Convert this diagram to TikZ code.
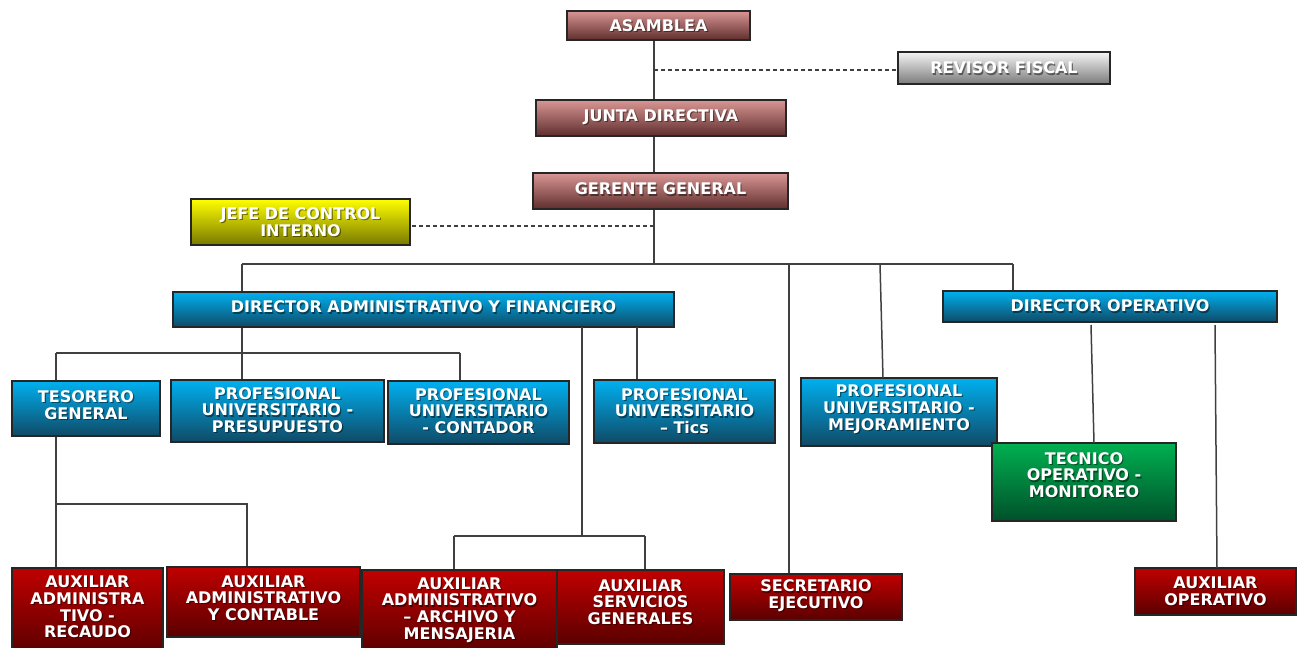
\documentclass[tikz,border=0pt]{standalone}
\usepackage{fontspec}
\setmainfont{DejaVu Sans}
\usetikzlibrary{fit}
\definecolor{pinkT}{HTML}{D99694}
\definecolor{pinkB}{HTML}{5E2E2D}
\definecolor{blueT}{HTML}{00B0F0}
\definecolor{blueB}{HTML}{0F4A66}
\definecolor{redT}{HTML}{C00000}
\definecolor{redB}{HTML}{5A0000}
\definecolor{greenT}{HTML}{00B050}
\definecolor{greenB}{HTML}{00502A}
\definecolor{yelT}{HTML}{FFFF00}
\definecolor{yelB}{HTML}{787800}
\definecolor{grayT}{HTML}{F5F5F5}
\definecolor{grayB}{HTML}{7A7A7A}
\tikzset{
  box/.style={draw=black!85, line width=1.2pt, inner sep=0pt},
  pinkbox/.style={box, top color=pinkT, bottom color=pinkB},
  bluebox/.style={box, top color=blueT, bottom color=blueB},
  redbox/.style={box, top color=redT, bottom color=redB},
  greenbox/.style={box, top color=greenT, bottom color=greenB},
  yelbox/.style={box, top color=yelT, bottom color=yelB},
  graybox/.style={box, top color=grayT, bottom color=grayB},
  txt/.style={text=white, align=center, inner sep=0pt, font=\bfseries\fontsize{16}{16.7}\selectfont},
  shadowtxt/.style={txt, text=black, text opacity=0.45},
  conn/.style={draw=black!75, line width=1.5pt},
  dconn/.style={conn, dash pattern=on 4pt off 3pt},
}
% name, style, x1, y1, x2, y2, text-y, text
\newcommand\orgbox[8]{%
  \node[#2, fit={(#3,#4)(#5,#6)}] (#1) {};
  \node[shadowtxt] (#1-s) at ({(#3+#5)/2+1.2},#7+1.2) {#8};
  \node[txt] (#1-t) at ({(#3+#5)/2},#7) {#8};
}
\begin{document}
\begin{tikzpicture}[x=1pt,y=-1pt]
\useasboundingbox (0,0) rectangle (1302,648);

\orgbox{asamblea}{pinkbox}{567}{11}{750}{40}{25.5}{ASAMBLEA}
\orgbox{revisor}{graybox}{898}{52}{1110}{84}{68}{REVISOR FISCAL}
\orgbox{junta}{pinkbox}{536}{100}{786}{136}{117}{JUNTA DIRECTIVA}
\orgbox{gerente}{pinkbox}{533}{173}{788}{209}{189}{GERENTE GENERAL}
\orgbox{jefe}{yelbox}{191}{199}{410}{245}{222}{JEFE DE CONTROL\\INTERNO}
\orgbox{diradm}{bluebox}{173}{292}{674}{327}{307}{DIRECTOR ADMINISTRATIVO Y FINANCIERO}
\orgbox{dirop}{bluebox}{943}{291}{1277}{322}{306}{DIRECTOR OPERATIVO}
\orgbox{tesorero}{bluebox}{12}{381}{160}{436}{405}{TESORERO\\GENERAL}
\orgbox{presup}{bluebox}{171}{380}{384}{442}{410}{PROFESIONAL\\UNIVERSITARIO -\\PRESUPUESTO}
\orgbox{contador}{bluebox}{388}{381}{569}{444}{411}{PROFESIONAL\\UNIVERSITARIO\\- CONTADOR}
\orgbox{tics}{bluebox}{594}{380}{775}{443}{411}{PROFESIONAL\\UNIVERSITARIO\\– Tics}
\orgbox{mejora}{bluebox}{801}{378}{997}{446}{409}{PROFESIONAL\\UNIVERSITARIO -\\MEJORAMIENTO}
\orgbox{tecnico}{greenbox}{992}{443}{1176}{521}{475}{TECNICO\\OPERATIVO -\\MONITOREO}
\orgbox{recaudo}{redbox}{12}{568}{163}{654}{607}{AUXILIAR\\ADMINISTRA\\TIVO -\\RECAUDO}
\orgbox{contable}{redbox}{167}{567}{360}{637}{598}{AUXILIAR\\ADMINISTRATIVO\\Y CONTABLE}
\orgbox{archivo}{redbox}{362}{570}{557}{654}{610}{AUXILIAR\\ADMINISTRATIVO\\– ARCHIVO Y\\MENSAJERIA}
\orgbox{servicios}{redbox}{557}{570}{724}{644}{602}{AUXILIAR\\SERVICIOS\\GENERALES}
\orgbox{secret}{redbox}{730}{574}{902}{620}{596}{SECRETARIO\\EJECUTIVO}
\orgbox{auxop}{redbox}{1135}{568}{1296}{615}{591}{AUXILIAR\\OPERATIVO}

% junction coordinates
\coordinate (s1) at (654,70);
\coordinate (s2) at (654,226);
\coordinate (busL) at (242,264);
\coordinate (busC) at (654,264);
\coordinate (busS) at (789,264);
\coordinate (busM) at (880,264);
\coordinate (busR) at (1013,264);
\coordinate (a1) at (56,353);
\coordinate (a2) at (460,353);
\coordinate (ax) at (582,327);
\coordinate (ay) at (582,536);
\coordinate (b1) at (454,536);
\coordinate (b2) at (645,536);
\coordinate (tics1) at (637,327);
\coordinate (t1) at (56,504);
\coordinate (t2) at (247,504);
\coordinate (o1) at (1091,325);
\coordinate (o2) at (1215,325);
\coordinate (m2) at (883,378);
\coordinate (o1e) at (1094,443);
\coordinate (o2e) at (1217,568);

% top chain
\draw[conn] (asamblea.south -| busC) -- (junta.north -| busC);
\draw[dconn] (s1) -- (revisor.west |- s1);
\draw[conn] (junta.south -| busC) -- (gerente.north -| busC);
\draw[conn] (gerente.south -| busC) -- (busC);
\draw[dconn] (s2) -- (jefe.east |- s2);
\draw[conn] (busL) -- (busR);
\draw[conn] (busL) -- (busL |- diradm.north);
\draw[conn] (busR) -- (busR |- dirop.north);
\draw[conn] (busS) -- (busS |- secret.north);
\draw[conn] (busM) -- (m2);
% director administrativo
\draw[conn] (busL |- diradm.south) -- (busL |- presup.north);
\draw[conn] (a1) -- (a2);
\draw[conn] (a1) -- (a1 |- tesorero.north);
\draw[conn] (a2) -- (a2 |- contador.north);
\draw[conn] (tics1) -- (tics1 |- tics.north);
\draw[conn] (ax) -- (ay);
\draw[conn] (b1) -- (b2);
\draw[conn] (b1) -- (b1 |- archivo.north);
\draw[conn] (b2) -- (b2 |- servicios.north);
% tesorero
\draw[conn] (a1 |- tesorero.south) -- (a1 |- recaudo.north);
\draw[conn] (t1) -- (t2) -- (t2 |- contable.north);
% director operativo
\draw[conn] (o1) -- (o1e);
\draw[conn] (o2) -- (o2e);
\end{tikzpicture}
\end{document}
